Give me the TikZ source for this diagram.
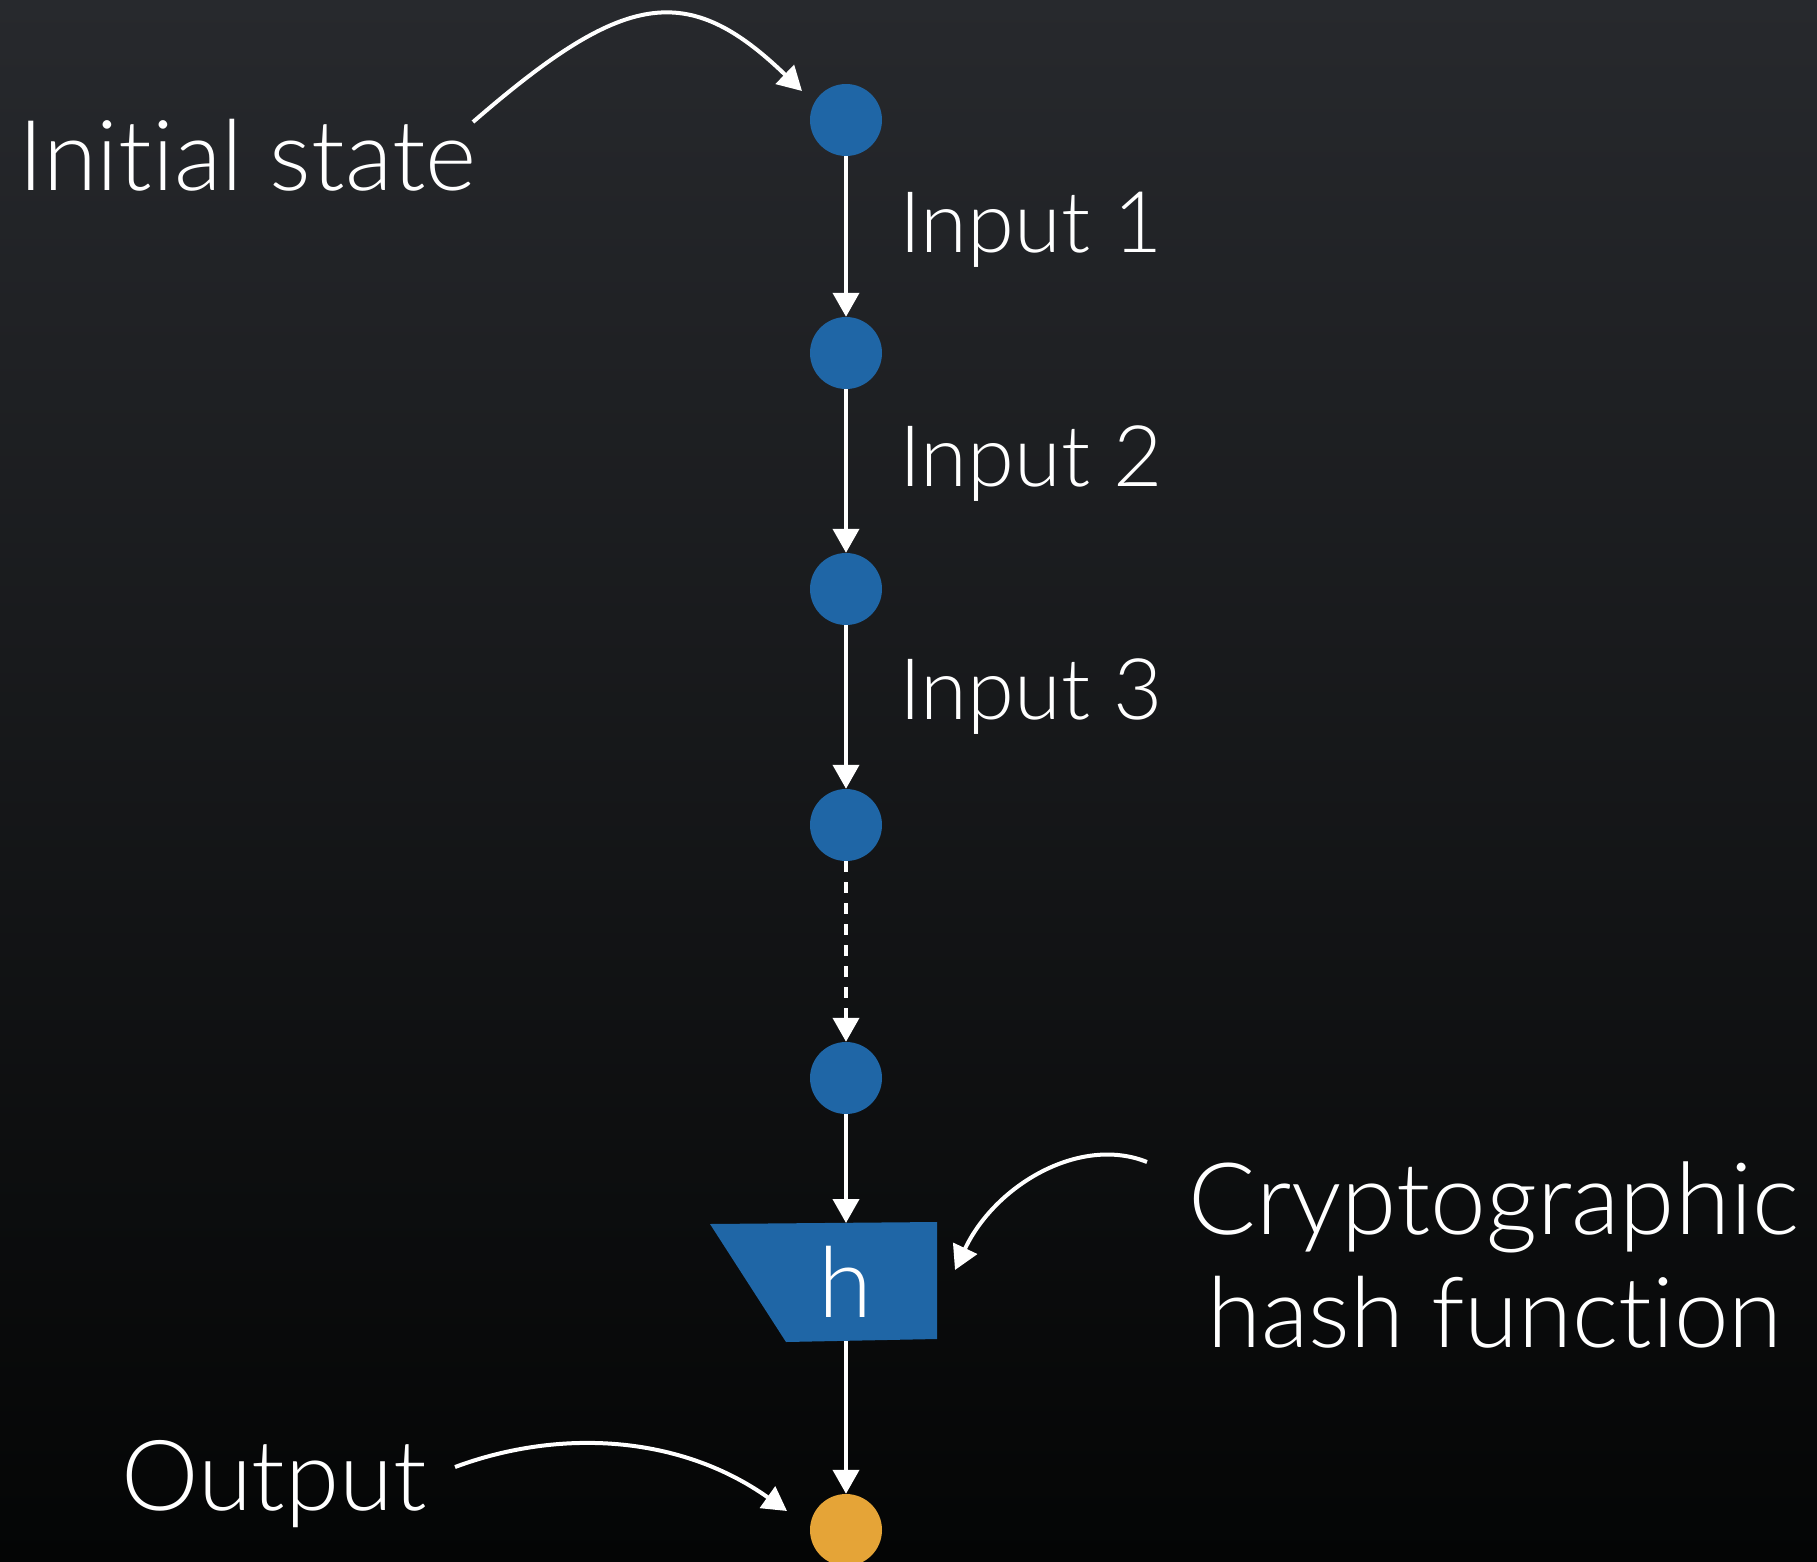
\documentclass[tikz,border=0pt]{standalone}
\usepackage{fontspec}
\IfFontExistsTF{Lato Light}{\setmainfont[Ligatures={NoCommon}]{Lato Light}}{\setmainfont{Liberation Sans}}
\usetikzlibrary{arrows.meta,calc}
\definecolor{bgtop}{RGB}{39,41,45}
\definecolor{bgbot}{RGB}{4,5,5}
\definecolor{stateblue}{RGB}{31,102,166}
\definecolor{outorange}{RGB}{229,164,55}
\begin{document}
\begin{tikzpicture}[x=1pt,y=-1pt,
  state/.style={circle,fill=stateblue,minimum size=72pt,inner sep=0pt},
  outstate/.style={state,fill=outorange},
  flow/.style={draw=white,line width=4pt,-{Triangle[width=26pt,length=24pt]}},
  dashflow/.style={flow,dash pattern=on 11pt off 10pt},
  pointer/.style={flow},
  bigtext/.style={text=white,inner sep=0pt,anchor=base west,font=\fontsize{98}{113}\selectfont},
  inputtext/.style={bigtext,font=\fontsize{85}{100}\selectfont},
]
% canvas and backdrop
\useasboundingbox (0,0) rectangle (1817,1562);
\shade[top color=bgtop,bottom color=bgbot] (0,0) rectangle (1817,1562);

% chain of states
\node[state] (s0) at (846,120) {};
\node[state] (s1) at (846,353) {};
\node[state] (s2) at (846,589) {};
\node[state] (s3) at (846,825) {};
\node[state] (s4) at (846,1078) {};
\node[outstate] (out) at (846,1530) {};

% hash block
\fill[stateblue] (710,1224) -- (937,1222) -- (937,1339) -- (786,1342) -- cycle;
\coordinate (hin) at (846,1223);
\coordinate (hout) at (846,1341);
\node[text=white,inner sep=0pt,anchor=base,font=\fontsize{98}{113}\selectfont] (h) at (845,1317) {h};

% state transitions
\draw[flow] (s0) -- (s1);
\draw[flow] (s1) -- (s2);
\draw[flow] (s2) -- (s3);
\draw[dashflow] (s3) -- (s4);
\draw[flow] (s4) -- (hin);
\draw[flow] (hout) -- (out);

% labels
\node[bigtext] (init) at (18,191) {Initial state};
\node[inputtext] (in1) at (899,253) {Input 1};
\node[inputtext] (in2) at (899,486) {Input 2};
\node[inputtext] (in3) at (899,719) {Input 3};
\node[bigtext,anchor=base,font=\fontsize{100}{113}\selectfont] (crypto) at (1494,1234) {Cryptographic};
\node[bigtext,anchor=base] (hashfn) at (1495,1347) {hash function};
\node[bigtext] (outlabel) at (121,1510) {Output};

% pointers from labels
\coordinate (initTail) at (473,122);
\coordinate (initTip) at (802,91);
\coordinate (hashTail) at (1147,1162);
\coordinate (hashTip) at (955,1270);
\coordinate (outTail) at (455,1467);
\coordinate (outTip) at (787,1511);
\draw[pointer] (initTail) .. controls +(151,-131) and +(-115,-111) .. (initTip);
\draw[pointer] (hashTail) .. controls +(-67,-27) and +(40,-85) .. (hashTip);
\draw[pointer] (outTail) .. controls +(105,-39) and +(-107,-76) .. (outTip);
\end{tikzpicture}
\end{document}
